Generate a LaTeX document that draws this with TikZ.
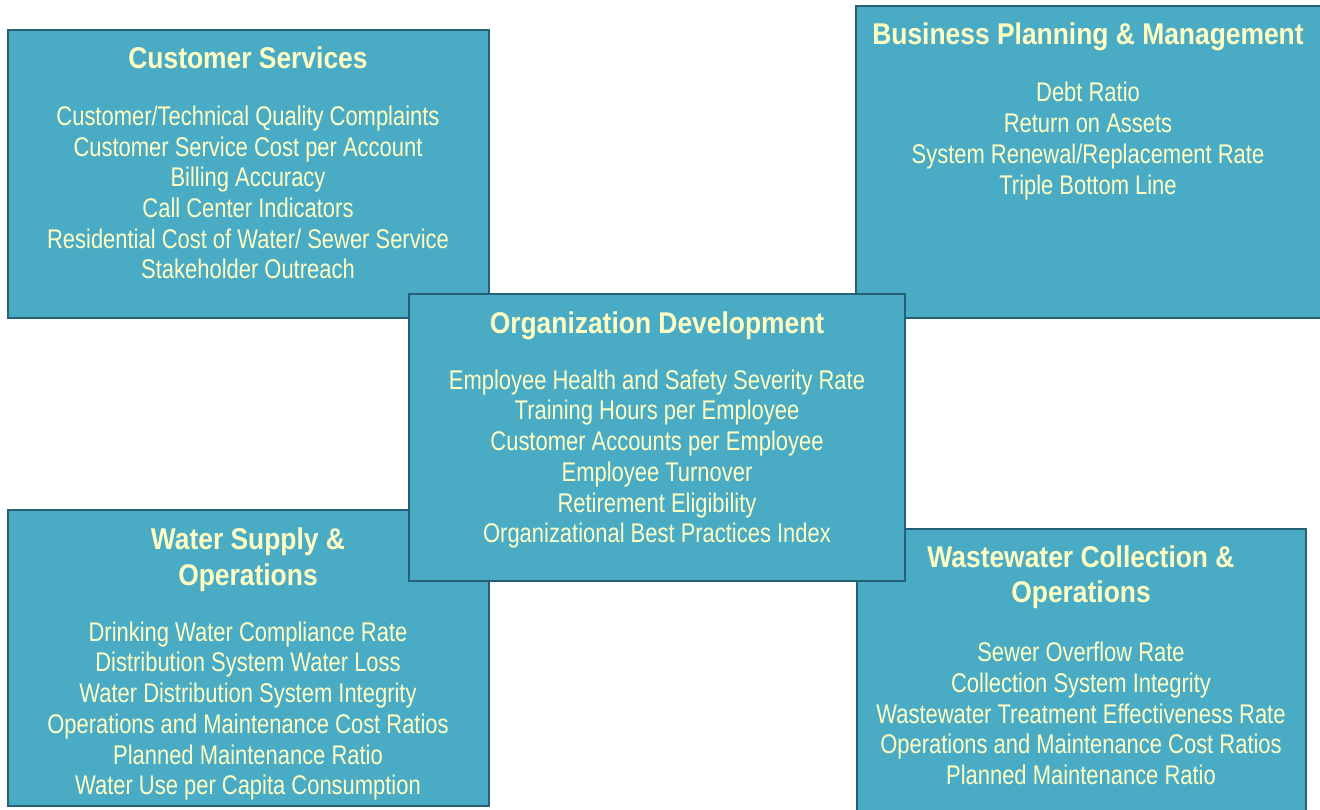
\documentclass[tikz,border=0pt]{standalone}
\usepackage{fontspec}
\setmainfont{Liberation Sans}[FakeStretch=0.813,BoldFeatures={FakeStretch=0.88}]
\usepackage{tikz}
\usetikzlibrary{positioning}

\definecolor{boxfill}{RGB}{74,171,197}
\definecolor{boxline}{RGB}{38,96,116}
\definecolor{boxtext}{RGB}{255,255,196}

\tikzset{
  areabox/.style={draw=boxline,fill=boxfill,line width=2.6pt,inner sep=0pt},
  areatitle/.style={text=boxtext,align=center,inner sep=0pt,font=\fontsize{30}{35.5}\selectfont\bfseries},
  arealist/.style={text=boxtext,align=center,inner sep=0pt,font=\fontsize{27}{30.7}\selectfont}
}

\begin{document}
\begin{tikzpicture}[x=1pt,y=-1pt]
        \useasboundingbox (0,0) rectangle (1320,810);
        \coordinate (cs) at (248.5,174);
        \coordinate (bp) at (1090,162);
        \coordinate (ws) at (248.5,658);
        \coordinate (ww) at (1081.5,671.5);
        \coordinate (od) at (657,437.5);
        % outer boxes
        \node[areabox,minimum width=481pt,minimum height=288pt] (CSBox) at (cs){};
        \node[areabox,minimum width=468pt,minimum height=312pt] (BPBox) at (bp){};
        \node[areabox,minimum width=481pt,minimum height=296pt] (WSBox) at (ws){};
        \node[areabox,minimum width=449pt,minimum height=285pt] (WWBox) at (ww){};
        % centre box on top
        \node[areabox,minimum width=496pt,minimum height=287pt] (ODBox) at (od){};
        % customer services
        \node[areatitle] (CSTitle) at (248,58){Customer Services};
        \node[arealist] (CSList) at (248,192.5){Customer/Technical Quality Complaints\\Customer Service Cost per Account\\Billing Accuracy\\Call Center Indicators\\Residential Cost of Water/ Sewer Service\\Stakeholder Outreach};
        % business planning
        \node[areatitle] (BPTitle) at (1088,37){Business Planning \& Management};
        \node[arealist] (BPList) at (1088,141){Debt Ratio\\Return on Assets\\System Renewal/Replacement Rate\\Triple Bottom Line};
        % organization development
        \node[areatitle] (ODTitle) at (657,326){Organization Development};
        \node[arealist] (ODList) at (657,459){Employee Health and Safety Severity Rate\\Training Hours per Employee\\Customer Accounts per Employee\\Employee Turnover\\Retirement Eligibility\\Organizational Best Practices Index};
        % water supply
        \node[areatitle] (WSTitle) at (248,559.5){Water Supply \&\\Operations};
        \node[arealist] (WSList) at (248,711){Drinking Water Compliance Rate\\Distribution System Water Loss\\Water Distribution System Integrity\\Operations and Maintenance Cost Ratios\\Planned Maintenance Ratio\\Water Use per Capita Consumption};
        % wastewater
        \node[areatitle] (WWTitle) at (1081,577){Wastewater Collection \&\\Operations};
        \node[arealist] (WWList) at (1081,713.5){Sewer Overflow Rate\\Collection System Integrity\\Wastewater Treatment Effectiveness Rate\\Operations and Maintenance Cost Ratios\\Planned Maintenance Ratio};
    \end{tikzpicture}
\end{document}
